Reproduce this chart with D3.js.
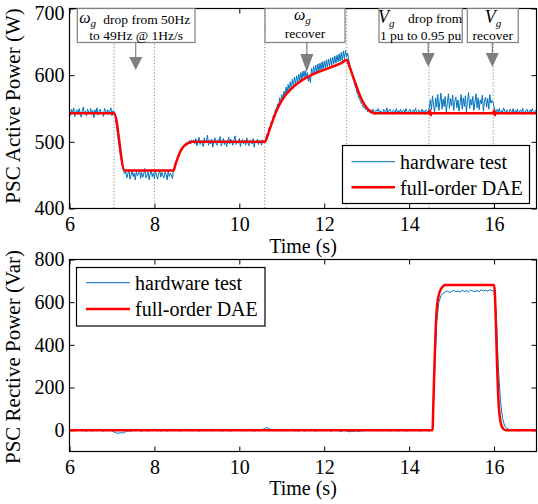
<!DOCTYPE html>
<html>
<head>
<meta charset="utf-8">
<script src="https://cdn.jsdelivr.net/npm/d3@7"></script>
<style>
  body { margin: 0; background: #fff; }
  svg { display: block; }
  text { font-family: "Liberation Serif", "Times New Roman", serif; fill: #000; }
</style>
</head>
<body>
<svg id="chart" width="538" height="504"></svg>
<script>
// ---- time axis ----
const timeStart = 6;
const pStep = 0.025;                           // active-power hardware sample spacing (s)
const qStep = 0.05;                            // reactive-power hardware sample spacing (s)
const timeDomain = [6, 17];
const xTicks = [6, 8, 10, 12, 14, 16];

// ---- active power (W) ----
const pDomain = [400, 700];
const pTicks = [400, 500, 600, 700];
const pHardware = [
  // 6.000 - 7.050 s
  546,540,549,543,551,538,545,548,541,550,544,537,547,552,542,546,539,549,545,543,
  550,541,547,536,548,544,551,540,546,549,542,545,538,550,547,543,548,541,546,551,
  539,547,544,
  // 7.075 - 7.300 s
  538,527,515,503,491,479,470,462,456,452,
  // 7.325 - 8.450 s
  455,446,452,459,444,450,457,448,453,443,456,449,451,458,445,454,447,452,460,446,
  450,455,443,451,457,448,453,445,456,450,444,452,458,447,454,449,446,455,451,443,
  457,448,453,450,445,458,
  // 8.475 - 8.900 s
  462,466,473,477,482,485,489,490,494,495,497,494,500,498,502,497,503,499,
  // 8.925 - 10.600 s
  503,497,505,494,500,507,496,502,499,493,506,498,501,510,495,503,497,504,492,500,
  506,498,495,503,501,508,494,499,505,496,502,493,500,507,497,504,499,495,503,509,
  496,501,498,505,493,500,504,497,502,495,506,499,494,503,500,497,505,492,501,498,
  504,496,502,499,495,503,498,500,
  // 10.625 - 12.550 s
  506,511,509,521,519,530,528,540,537,549,546,557,552,566,559,571,563,576,568,582,
  573,586,577,590,580,594,584,597,587,599,590,601,592,604,594,606,597,607,596,604,
  591,598,589,610,601,613,603,615,604,617,606,618,608,620,609,621,611,623,612,624,
  614,626,615,627,617,629,618,630,620,632,621,634,622,636,625,637,628,633,
  // 12.575 - 13.100 s
  624,616,610,604,596,592,584,580,573,570,564,562,557,556,551,553,548,550,545,549,
  544,548,
  // 13.125 - 14.450 s
  544,549,545,541,548,546,550,543,547,545,542,549,546,544,551,543,547,549,545,541,
  548,546,544,550,543,547,545,549,542,546,548,544,550,545,541,547,549,543,546,548,
  544,550,545,542,548,546,543,549,545,547,541,548,546,544,
  // 14.475 - 15.975 s
  551,563,548,569,555,544,566,552,571,547,560,573,549,564,553,568,545,559,572,550,
  565,554,570,547,561,567,551,563,546,558,571,549,566,553,569,545,562,574,550,564,
  555,568,547,560,572,551,566,548,563,557,570,546,561,567,552,565,549,571,558,562,
  560,
  // 16.000 - 17.000 s
  552,547,543,549,545,550,542,547,544,551,546,543,548,545,541,549,546,544,550,543,
  547,545,549,542,546,548,544,550,545,541,547,549,543,546,548,544,550,545,542,547,
  545
];
const pModel = [
  [6,543],[7.05,543],[7.30,457],[8.45,457],[8.5,467],[8.55,476],[8.6,484],[8.65,490],[8.7,494],[8.8,498],[8.9,500],
  [10.6,500],[10.7,516],[10.8,534],[10.9,550],[11.0,562],[11.1,571],[11.2,578],[11.4,589],[11.6,597],[11.8,603],
  [12.0,608],[12.2,613],[12.4,618],[12.53,623],[12.6,612],[12.7,594],[12.8,576],[12.9,561],[13.0,551],[13.1,545],
  [13.2,543],[14.47,543],[14.49,547],[14.51,540],[14.53,543],[15.98,543],[16.0,547],[16.02,540],[16.04,543],[17,543]
];

// ---- reactive power (Var) ----
const qDomain = [-100, 800];
const qTicks = [0, 200, 400, 600, 800];
const qHardware = [
  -3,2,-5,1,-2,4,-4,0,-6,3,-1,-4,2,-3,5,-2,-5,1,-3,2,
  -4,-8,-12,-15,-11,-14,-9,-6,-3,-5,
  1,-3,4,-2,-5,2,-1,-4,3,-2,5,-3,0,-5,2,-2,-4,3,-1,4,-3,1,-5,2,-2,6,-4,0,-3,3,-1,-5,2,-2,4,-3,1,-4,5,-1,-3,2,-5,0,3,-2,-4,1,-1,4,
  -2,3,-4,1,-3,2,-1,-5,2,-3,0,4,9,12,6,2,-2,3,-4,1,
  -3,2,-5,1,-2,4,-4,0,-6,3,-1,-4,2,-3,5,-2,-5,1,-3,2,-4,0,3,-6,1,-2,4,-3,-7,2,
  -1,-5,-8,-4,-6,-2,-7,-3,-5,1,-3,2,-4,0,-2,3,-5,1,-3,4,-2,-4,1,-3,2,-5,0,3,-2,-4,
  1,-1,4,-3,2,-5,0,-2,3,-4,-2,
  5,260,510,600,630,642,
  648,652,646,651,655,649,653,647,656,650,654,648,657,652,650,655,649,658,653,656,651,659,654,
  652,560,300,140,55,20,8,
  3,-2,4,-3,1,-4,2,-1,-3,3,-2,0,-4,2
];
const qModel = [
  [6,0],[14.55,0],[14.57,120],[14.6,330],[14.63,500],[14.66,590],[14.7,635],[14.75,662],[14.8,675],[14.86,680],
  [16.0,680],[16.02,640],[16.04,520],[16.06,380],[16.08,250],[16.1,150],[16.13,70],[16.17,25],[16.22,6],[16.28,0],[17,0]
];

// event instants marked with dotted lines in the active-power panel
const eventTimes = [7.05, 8.0, 10.6, 12.53, 14.47, 15.98];

const seriesNames = ["hardware test", "full-order DAE"];
const colors = { hardware: "#0072BD", model: "#FF0000" };

// ---- layout ----
const svg = d3.select("#chart");
const left = 69.5, right = 536.5;
const x = d3.scaleLinear().domain(timeDomain).range([left, right]);
const yP = d3.scaleLinear().domain(pDomain).range([208.5, 8.5]);
const yQ = d3.scaleLinear().domain(qDomain).range([451.5, 259.5]);

const toPoints = (vals, step) => vals.map((v, i) => [timeStart + i * step, v]);

function panel(id, y, ticks) {
  const g = svg.append("g");
  const [yb, yt] = y.range();
  g.append("clipPath").attr("id", id).append("rect")
    .attr("x", left).attr("y", yt).attr("width", right - left).attr("height", yb - yt);

  const axisStyle = sel => {
    sel.select(".domain").remove();
    sel.selectAll("line").attr("stroke", "#000");
    sel.selectAll("text").style("font-size", "20px").style("font-family", '"Liberation Serif", serif');
  };

  g.append("g").attr("transform", `translate(0,${yb})`)
    .call(d3.axisBottom(x).tickValues(xTicks).tickSize(-5).tickPadding(8).tickFormat(d3.format("d")))
    .call(axisStyle);
  g.append("g").attr("transform", `translate(0,${yt})`)
    .call(d3.axisTop(x).tickValues(xTicks).tickSize(-5).tickFormat(""))
    .call(axisStyle);
  const yAxis = g.append("g").attr("transform", `translate(${left},0)`)
    .call(d3.axisLeft(y).tickValues(ticks).tickSize(-5).tickPadding(5).tickFormat(d3.format("d")))
    .call(axisStyle);
  // keep the topmost label inside the figure
  yAxis.selectAll(".tick text").filter(d => d === ticks[ticks.length - 1] && y(d) < 20).attr("dy", "0.55em");
  g.append("g").attr("transform", `translate(${right},0)`)
    .call(d3.axisRight(y).tickValues(ticks).tickSize(-5).tickFormat(""))
    .call(axisStyle);

  const plot = g.append("g").attr("clip-path", `url(#${id})`);
  return { g, plot, yb, yt };
}

function drawSeries(p, y, hw, step, model) {
  p.plot.append("path").datum(toPoints(hw, step))
    .attr("fill", "none").attr("stroke", colors.hardware).attr("stroke-width", 1)
    .attr("d", d3.line().x(d => x(d[0])).y(d => y(d[1])));
  p.plot.append("path").datum(model)
    .attr("fill", "none").attr("stroke", colors.model).attr("stroke-width", 2.5)
    .attr("stroke-linejoin", "round")
    .attr("d", d3.line().x(d => x(d[0])).y(d => y(d[1])).curve(d3.curveMonotoneX));
}

function border(p) {
  p.g.append("rect").attr("x", left).attr("y", p.yt).attr("width", right - left)
    .attr("height", p.yb - p.yt).attr("fill", "none").attr("stroke", "#000").attr("stroke-width", 1.2);
}

function legend(g, x0, y0, w, h, textX, lineX0, lineX1, rows) {
  g.append("rect").attr("x", x0).attr("y", y0).attr("width", w).attr("height", h)
    .attr("fill", "#fff").attr("stroke", "#000").attr("stroke-width", 1.2);
  rows.forEach((r, i) => {
    g.append("line").attr("x1", lineX0).attr("x2", lineX1).attr("y1", r.ly).attr("y2", r.ly)
      .attr("stroke", r.color).attr("stroke-width", r.width);
    g.append("text").attr("x", textX).attr("y", r.ty).style("font-size", "20px").text(seriesNames[i]);
  });
}

function axisTitles(cx, cy, yTitle, timeY) {
  svg.append("text").attr("transform", `translate(20,${cy}) rotate(-90)`)
    .attr("text-anchor", "middle").style("font-size", "21px").text(yTitle);
  svg.append("text").attr("x", cx).attr("y", timeY).attr("text-anchor", "middle")
    .style("font-size", "20px").text("Time (s)");
}

// ---------- active power panel ----------
const pPanel = panel("clipP", yP, pTicks);
pPanel.plot.selectAll("line.event").data(eventTimes).join("line")
  .attr("x1", d => x(d)).attr("x2", d => x(d)).attr("y1", pPanel.yt).attr("y2", pPanel.yb)
  .attr("stroke", "#888").attr("stroke-width", 1).attr("stroke-dasharray", "1.2,2");
drawSeries(pPanel, yP, pHardware, pStep, pModel);
border(pPanel);

// annotation boxes with arrows
const grey = "#7f7f7f";
const notes = [
  { box: [6.184, 8.956], arrow: 7.56, tip: 70, head: 57 },
  { box: [10.605, 12.49], arrow: 11.59, tip: 72, head: 54 },
  { box: [13.29, 15.25], arrow: 14.45, tip: 67, head: 53 },
  { box: [15.37, 16.57], arrow: 15.96, tip: 67, head: 53 }
];
const ann = pPanel.g.append("g");
notes.forEach(n => {
  const xa = x(n.arrow);
  ann.append("line").attr("x1", xa).attr("x2", xa).attr("y1", 42.5).attr("y2", n.head)
    .attr("stroke", grey).attr("stroke-width", 1.2);
  ann.append("path").attr("d", `M${xa - 6.5},${n.head}L${xa + 6.5},${n.head}L${xa},${n.tip}Z`).attr("fill", grey);
  ann.append("rect").attr("x", x(n.box[0])).attr("y", 8.5)
    .attr("width", x(n.box[1]) - x(n.box[0])).attr("height", 34)
    .attr("fill", "#fff").attr("stroke", grey).attr("stroke-width", 1.2);
});

function symbol(gx, gy, sym, size) {
  const t = ann.append("text").attr("x", gx).attr("y", gy);
  t.append("tspan").style("font-style", "italic").style("font-size", size + "px").text(sym);
  t.append("tspan").style("font-style", "italic").style("font-size", "11px").attr("dy", 4).text("g");
}
function label(lx, ly, str, anchor) {
  ann.append("text").attr("x", lx).attr("y", ly).attr("text-anchor", anchor || "start")
    .style("font-size", "13.5px").text(str);
}
const b = notes.map(n => [x(n.box[0]), x(n.box[1])]);
symbol(b[0][0] + 2, 23, "ω", 16);
label(b[0][0] + 26, 24, "drop from 50Hz");
label((b[0][0] + b[0][1]) / 2, 39.5, "to 49Hz @ 1Hz/s", "middle");
symbol((b[1][0] + b[1][1]) / 2 - 11, 20, "ω", 16);
label((b[1][0] + b[1][1]) / 2, 37.5, "recover", "middle");
symbol(b[2][0] - 1, 23, "V", 18);
label(b[2][0] + 29, 23, "drop from");
label((b[2][0] + b[2][1]) / 2, 39.5, "1 pu to 0.95 pu", "middle");
symbol((b[3][0] + b[3][1]) / 2 - 8, 23, "V", 18);
label((b[3][0] + b[3][1]) / 2, 39.5, "recover", "middle");

legend(pPanel.g, 342.5, 145.5, 187, 58, 400, 351.5, 395, [
  { ly: 161.7, ty: 168.5, color: colors.hardware, width: 1 },
  { ly: 187.3, ty: 194.5, color: colors.model, width: 2.5 }
]);
axisTitles((left + right) / 2, 106, "PSC Active Power (W)", 252.5);

// ---------- reactive power panel ----------
const qPanel = panel("clipQ", yQ, qTicks);
drawSeries(qPanel, yQ, qHardware, qStep, qModel);
border(qPanel);
legend(qPanel.g, 76.5, 267.5, 188.5, 58.5, 135, 86, 130, [
  { ly: 282.7, ty: 289.5, color: colors.hardware, width: 1 },
  { ly: 309, ty: 316, color: colors.model, width: 2.5 }
]);
axisTitles((left + right) / 2, 357, "PSC Rective Power (Var)", 495);
</script>
</body>
</html>
